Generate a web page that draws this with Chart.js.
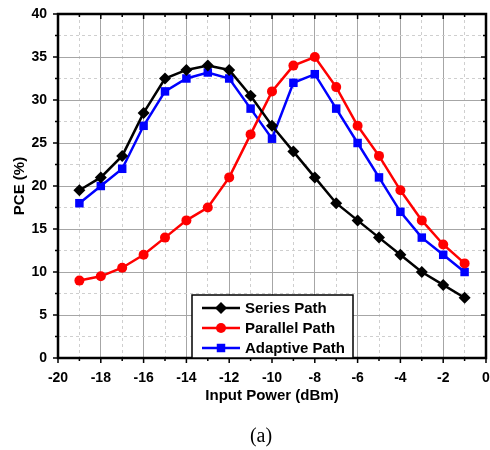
<!DOCTYPE html>
<html>
<head>
<meta charset="utf-8">
<script src="https://cdn.jsdelivr.net/npm/chart.js@4/dist/chart.umd.min.js"></script>
<style>
html,body{margin:0;padding:0;background:#fff}
#wrap{width:490px;height:450px}
</style>
</head>
<body>
<div id="wrap"><canvas id="pce"></canvas></div>
<script>
const inputPower=[-19,-18,-17,-16,-15,-14,-13,-12,-11,-10,-9,-8,-7,-6,-5,-4,-3,-2,-1];
const seriesPath=[19.5,21,23.5,28.5,32.5,33.5,34,33.5,30.5,27,24,21,18,16,14,12,10,8.5,7];
const parallelPath=[9,9.5,10.5,12,14,16,17.5,21,26,31,34,35,31.5,27,23.5,19.5,16,13.2,11];
const adaptivePath=[18,20,22,27,31,32.5,33.2,32.5,29,25.5,32,33,29,25,21,17,14,12,10];
const caption="(a)";

const font="'Liberation Sans', Arial, sans-serif";
const pts=arr=>inputPower.map((x,i)=>({x,y:arr[i]}));
const major="#a6a6a6",minor="#cfcfcf";

// frame with tick marks, the legend box inside the plot, and the caption
const frame={
  id:"frame",
  afterDraw(chart){
    const {ctx,chartArea:a,scales:{x,y}}=chart;
    ctx.save();
    ctx.strokeStyle="#000";ctx.lineWidth=1.5;
    for(let v=-20;v<=0;v++){
      const px=x.getPixelForValue(v),len=v%2===0?5:3;
      ctx.beginPath();ctx.moveTo(px,a.bottom);ctx.lineTo(px,a.bottom+len);
      ctx.moveTo(px,a.top);ctx.lineTo(px,a.top+len);ctx.stroke();
    }
    for(let v=0;v<=40;v+=2.5){
      const py=y.getPixelForValue(v),len=v%5===0?5:3;
      ctx.beginPath();ctx.moveTo(a.left,py);ctx.lineTo(a.left-len,py);
      ctx.moveTo(a.right,py);ctx.lineTo(a.right-len,py);ctx.stroke();
    }
    ctx.lineWidth=2.5;
    ctx.strokeRect(a.left,a.top,a.right-a.left,a.bottom-a.top);
    // legend
    const bx=192,by=295,bw=161,bh=63;
    ctx.fillStyle="#fff";ctx.fillRect(bx,by,bw,bh);
    ctx.lineWidth=1.5;ctx.strokeRect(bx,by,bw,bh);
    ctx.font="bold 15px "+font;ctx.textBaseline="middle";
    chart.data.datasets.forEach((d,i)=>{
      const ly=by+13+i*20;
      ctx.strokeStyle=d.borderColor;ctx.lineWidth=2.5;
      ctx.beginPath();ctx.moveTo(202,ly);ctx.lineTo(240,ly);ctx.stroke();
      ctx.fillStyle=d.borderColor;
      Chart.helpers.drawPoint(ctx,{pointStyle:d.pointStyle,radius:d.pointRadius,borderWidth:0},221,ly);
      ctx.fillStyle="#000";ctx.fillText(d.label,245,ly+1);
    });
    // caption
    ctx.font="20px 'Liberation Serif','Times New Roman',serif";
    ctx.textAlign="center";ctx.fillStyle="#000";
    ctx.fillText(caption,261,437);
    ctx.restore();
  }
};

const ds=(label,data,color,style,r)=>({label,data:pts(data),borderColor:color,backgroundColor:color,
  borderWidth:2.5,pointStyle:style,pointRadius:r,pointBorderWidth:0,pointBackgroundColor:color,tension:0});

new Chart("pce",{
  type:"line",
  data:{datasets:[
    ds("Series Path",seriesPath,"#000000","rectRot",6),
    ds("Parallel Path",parallelPath,"#ff0000","circle",5),
    ds("Adaptive Path",adaptivePath,"#0000ff","rect",6)
  ]},
  options:{
    responsive:true,maintainAspectRatio:false,animation:false,
    layout:{autoPadding:false,padding:{top:14,right:4,left:0,bottom:25}},
    plugins:{legend:{display:false},tooltip:{enabled:false}},
    scales:{
      x:{type:"linear",min:-20,max:0,
        ticks:{stepSize:1,autoSkip:false,maxRotation:0,padding:12,color:"#000",
          font:{family:font,size:14,weight:"bold"},callback:v=>v%2===0?v:""},
        grid:{color:c=>c.tick&&c.tick.value%2!==0?minor:major,lineWidth:1,drawTicks:false},
        border:{display:false,dash:c=>c.tick&&c.tick.value%2!==0?[3,3]:[]},
        title:{display:true,text:"Input Power (dBm)",color:"#000",font:{family:font,size:15,weight:"bold"},padding:{top:2,bottom:20}},
        afterFit:s=>{s.height=67;s.paddingLeft=0;s.paddingRight=0}
      },
      y:{min:0,max:40,
        ticks:{stepSize:2.5,autoSkip:false,padding:11,color:"#000",
          font:{family:font,size:14,weight:"bold"},callback:v=>v%5===0?v:""},
        grid:{color:c=>c.tick&&c.tick.value%5!==0?minor:major,lineWidth:1,drawTicks:false},
        border:{display:false,dash:c=>c.tick&&c.tick.value%5!==0?[3,3]:[]},
        title:{display:true,text:"PCE (%)",color:"#000",font:{family:font,size:15,weight:"bold"},padding:{top:11,bottom:0}},
        afterFit:s=>{s.width=58;s.paddingTop=0;s.paddingBottom=0}
      }
    }
  },
  plugins:[frame]
});
</script>
</body>
</html>
